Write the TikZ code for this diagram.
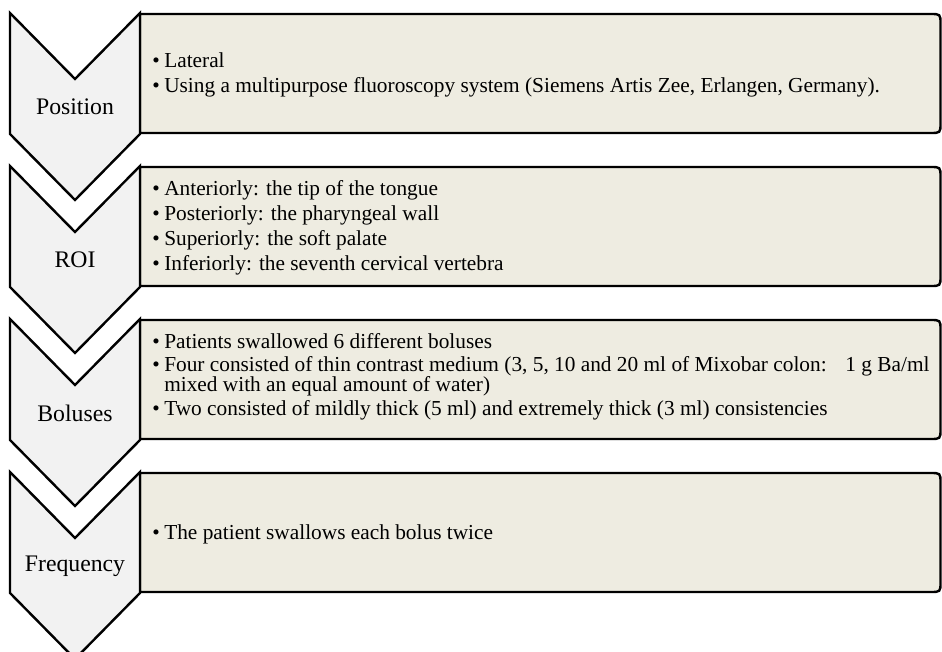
\documentclass[tikz,border=0pt]{standalone}
\usepackage{fontspec}
\setmainfont{Liberation Serif}
\definecolor{chevgray}{HTML}{F2F2F2}
\definecolor{paneltan}{HTML}{EEECE1}
\newcommand{\itm}{\makebox[9pt][l]{\textbullet}}
\newcommand{\cont}{\hspace*{9pt}}
\tikzset{
  chevron/.style={draw, line width=1.8pt, fill=chevgray},
  panel/.style={draw, line width=1.8pt, fill=paneltan},
  lbl/.style={inner sep=0pt, font=\fontsize{17.8}{20}\selectfont},
  txt/.style={anchor=base west, inner sep=0pt, font=\fontsize{16}{18}\selectfont}
}

\begin{document}
\begin{tikzpicture}[x=0.75pt, y=-0.75pt]
  \clip (0,0) rectangle (942,652);
  \foreach \t in {13,166,319,472} {
    \draw [panel] (140,\t+1) -- (930,\t+1) .. controls (940.5,\t+1) .. (940.5,\t+11)
      -- (940.5,\t+110) .. controls (940.5,\t+120) .. (930,\t+120) -- (140,\t+120) -- cycle;
    \draw [chevron] (10,\t) -- (75,\t+66) -- (140,\t) -- (140,\t+121)
      -- (75,\t+187) -- (10,\t+121) -- cycle;
  }
  \node [lbl] (pos) at (75,107) {Position};
  \node [lbl] (roi) at (75,260) {ROI};
  \node [lbl] (bol) at (75,413) {Boluses};
  \node [lbl] (freq) at (75,566) {Frequency};

  \node [txt] (posA) at (152,68) {\itm Lateral};
  \node [txt] (posB) at (152,93) {\itm Using a multipurpose fluoroscopy system (Siemens Artis Zee, Erlangen, Germany).};

  \node [txt] (roiA) at (152,196) {\itm Anteriorly: the tip of the tongue};
  \node [txt] (roiB) at (152,221) {\itm Posteriorly: the pharyngeal wall};
  \node [txt] (roiC) at (152,246) {\itm Superiorly: the soft palate};
  \node [txt] (roiD) at (152,271) {\itm Inferiorly: the seventh cervical vertebra};

  \node [txt] (bolA) at (152,348) {\itm Patients swallowed 6 different boluses};
  \node [txt] (bolB) at (152,371) {\itm\makebox[574pt][l]{Four consisted of thin contrast medium (3, 5, 10 and 20 ml of Mixobar colon:\hfill 1 g Ba/ml}};
  \node [txt] (bolC) at (152,391) {\cont mixed with an equal amount of water)};
  \node [txt] (bolD) at (152,415) {\itm Two consisted of mildly thick (5 ml) and extremely thick (3 ml) consistencies};

  \node [txt] (freqA) at (152,539) {\itm The patient swallows each bolus twice};
\end{tikzpicture}
\end{document}
